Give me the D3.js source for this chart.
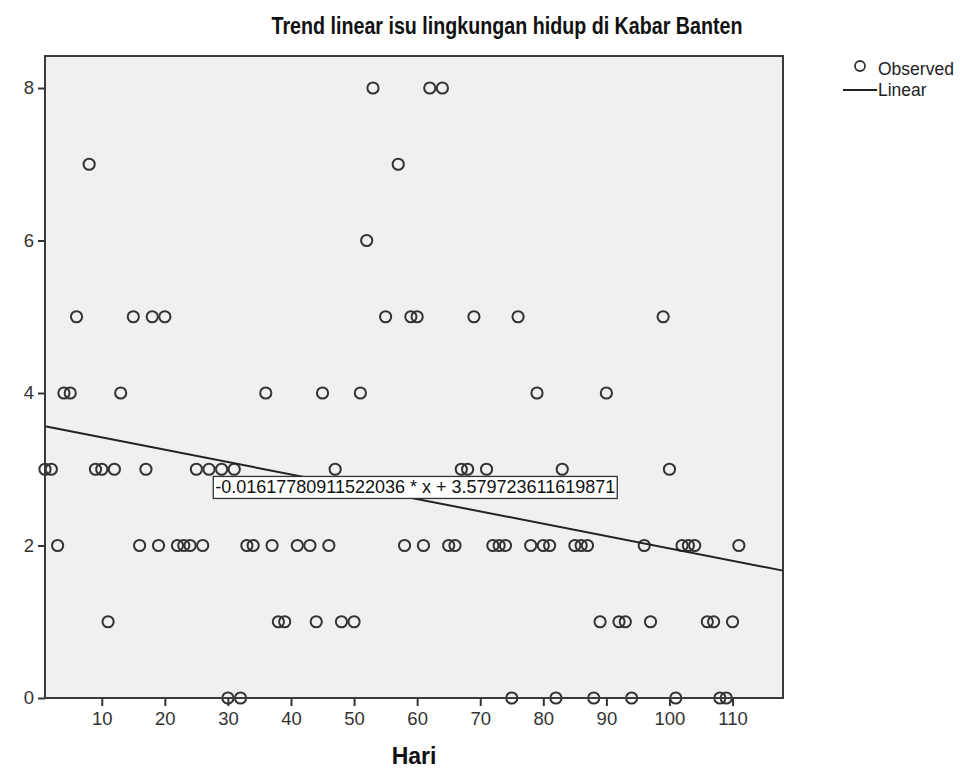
<!DOCTYPE html>
<html>
<head>
<meta charset="utf-8">
<script src="https://cdn.jsdelivr.net/npm/d3@7"></script>
<style>
  body { margin: 0; background: #fff; }
  text { font-family: "Liberation Sans", Arial, sans-serif; }
</style>
</head>
<body>
<div id="wrapper"></div>
<script>
// hari (day number) and jumlah berita (count)
const hari = [1, 2, 3, 4, 5, 6, 8, 9, 10, 11, 12, 13, 15, 16, 17, 18, 19, 20,
  22, 23, 24, 25, 26, 27, 29, 30, 31, 32, 33, 34, 36, 37, 38, 39, 41, 43, 44,
  45, 46, 47, 48, 50, 51, 52, 53, 55, 57, 58, 59, 60, 61, 62, 64, 65, 66, 67,
  68, 69, 71, 72, 73, 74, 75, 76, 78, 79, 80, 81, 82, 83, 85, 86, 87, 88, 89,
  90, 92, 93, 94, 96, 97, 99, 100, 101, 102, 103, 104, 106, 107, 108, 109, 110, 111]
const jumlah = [3, 3, 2, 4, 4, 5, 7, 3, 3, 1, 3, 4, 5, 2, 3, 5, 2, 5,
  2, 2, 2, 3, 2, 3, 3, 0, 3, 0, 2, 2, 4, 2, 1, 1, 2, 2, 1,
  4, 2, 3, 1, 1, 4, 6, 8, 5, 7, 2, 5, 5, 2, 8, 8, 2, 2, 3,
  3, 5, 3, 2, 2, 2, 0, 5, 2, 4, 2, 2, 0, 3, 2, 2, 2, 0, 1,
  4, 1, 1, 0, 2, 1, 5, 3, 0, 2, 2, 2, 1, 1, 0, 0, 1, 2]

const xTicks = [10, 20, 30, 40, 50, 60, 70, 80, 90, 100, 110]
const yTicks = [0, 2, 4, 6, 8]
const xDomain = [1, 118]
const yDomain = [0, 8.42]

// linear trend from the chart label
const slope = -0.01617780911522036
const intercept = 3.579723611619871
const equationText = "-0.01617780911522036 * x + 3.579723611619871"
const labelAt = [59.7, 2.77]

const title = "Trend linear isu lingkungan hidup di Kabar Banten"
const xTitle = "Hari"
const legendItems = ["Observed", "Linear"]

function drawChart() {
    const dataset = hari.map((d, i) => ({ x: d, y: jumlah[i] }))
    const xAccessor = d => d.x
    const yAccessor = d => d.y

    let dimensions = {
        width: 961,
        height: 770,
        margin: { top: 56, right: 178, bottom: 72, left: 45 },
    }
    dimensions.boundedWidth = dimensions.width - dimensions.margin.left - dimensions.margin.right
    dimensions.boundedHeight = dimensions.height - dimensions.margin.top - dimensions.margin.bottom

    const wrapper = d3.select("#wrapper")
        .append("svg")
        .attr("width", dimensions.width)
        .attr("height", dimensions.height)

    wrapper.append("rect")
        .attr("width", dimensions.width)
        .attr("height", dimensions.height)
        .attr("fill", "#fff")

    const bounds = wrapper.append("g")
        .attr("transform", `translate(${dimensions.margin.left},${dimensions.margin.top})`)

    const xScaler = d3.scaleLinear()
        .domain(xDomain)
        .range([0, dimensions.boundedWidth])
    const yScaler = d3.scaleLinear()
        .domain(yDomain)
        .range([dimensions.boundedHeight, 0])

    // plot background
    bounds.append("rect")
        .attr("width", dimensions.boundedWidth)
        .attr("height", dimensions.boundedHeight)
        .attr("fill", "#f0f0f0")

    // axes
    const xAxisGen = d3.axisBottom(xScaler)
        .tickValues(xTicks)
        .tickSize(8)
        .tickSizeOuter(0)
        .tickPadding(6)
    const xAxis = bounds.append("g")
        .attr("transform", `translate(0,${dimensions.boundedHeight})`)
        .call(xAxisGen)

    const yAxisGen = d3.axisLeft(yScaler)
        .tickValues(yTicks)
        .tickSize(7)
        .tickSizeOuter(0)
        .tickPadding(4)
    const yAxis = bounds.append("g")
        .call(yAxisGen)

    for (const ax of [xAxis, yAxis]) {
        ax.select(".domain").remove()
        ax.selectAll(".tick line").attr("stroke", "#333").attr("stroke-width", 2)
        ax.selectAll(".tick text")
            .attr("fill", "#333")
            .style("font-size", "18.5px")
    }

    // observed points
    bounds.append("g")
        .selectAll("circle")
        .data(dataset)
        .join("circle")
        .attr("cx", d => xScaler(xAccessor(d)))
        .attr("cy", d => yScaler(yAccessor(d)))
        .attr("r", 5.6)
        .attr("fill", "none")
        .attr("stroke", "#333")
        .attr("stroke-width", 2)

    // trend line
    const lineGen = d3.line()
        .x(d => xScaler(d))
        .y(d => yScaler(intercept + slope * d))
    bounds.append("path")
        .datum(xDomain)
        .attr("d", lineGen)
        .attr("fill", "none")
        .attr("stroke", "#222")
        .attr("stroke-width", 2)

    // equation label
    const labelGroup = bounds.append("g")
    const labelText = labelGroup.append("text")
        .attr("x", xScaler(labelAt[0]))
        .attr("y", yScaler(labelAt[1]))
        .attr("dy", "0.35em")
        .attr("text-anchor", "middle")
        .attr("textLength", 400)
        .attr("lengthAdjust", "spacingAndGlyphs")
        .style("font-size", "19px")
        .attr("fill", "#111")
        .text(equationText)
    const bb = labelText.node().getBBox()
    labelGroup.insert("rect", "text")
        .attr("x", bb.x - 2)
        .attr("y", bb.y)
        .attr("width", bb.width + 4)
        .attr("height", bb.height + 1)
        .attr("fill", "#fff")
        .attr("stroke", "#333")
        .attr("stroke-width", 1.3)

    // frame
    bounds.append("rect")
        .attr("width", dimensions.boundedWidth)
        .attr("height", dimensions.boundedHeight)
        .attr("fill", "none")
        .attr("stroke", "#3a3a3a")
        .attr("stroke-width", 2)

    // titles
    wrapper.append("text")
        .attr("x", 507)
        .attr("y", 34)
        .attr("text-anchor", "middle")
        .attr("textLength", 471)
        .attr("lengthAdjust", "spacingAndGlyphs")
        .style("font-size", "24px")
        .style("font-weight", "bold")
        .attr("fill", "#111")
        .text(title)

    wrapper.append("text")
        .attr("x", dimensions.margin.left + dimensions.boundedWidth / 2)
        .attr("y", 764)
        .attr("text-anchor", "middle")
        .style("font-size", "23px")
        .style("font-weight", "bold")
        .attr("fill", "#111")
        .text(xTitle)

    // legend
    const legend = wrapper.append("g")
    legend.append("circle")
        .attr("cx", 860)
        .attr("cy", 66)
        .attr("r", 5)
        .attr("fill", "none")
        .attr("stroke", "#333")
        .attr("stroke-width", 1.8)
    legend.append("text")
        .attr("x", 878)
        .attr("y", 75)
        .style("font-size", "17.5px")
        .attr("fill", "#222")
        .text(legendItems[0])
    legend.append("line")
        .attr("x1", 843)
        .attr("x2", 877)
        .attr("y1", 90)
        .attr("y2", 90)
        .attr("stroke", "#222")
        .attr("stroke-width", 2)
    legend.append("text")
        .attr("x", 878)
        .attr("y", 96)
        .style("font-size", "17.5px")
        .attr("fill", "#222")
        .text(legendItems[1])
}

drawChart()
</script>
</body>
</html>
